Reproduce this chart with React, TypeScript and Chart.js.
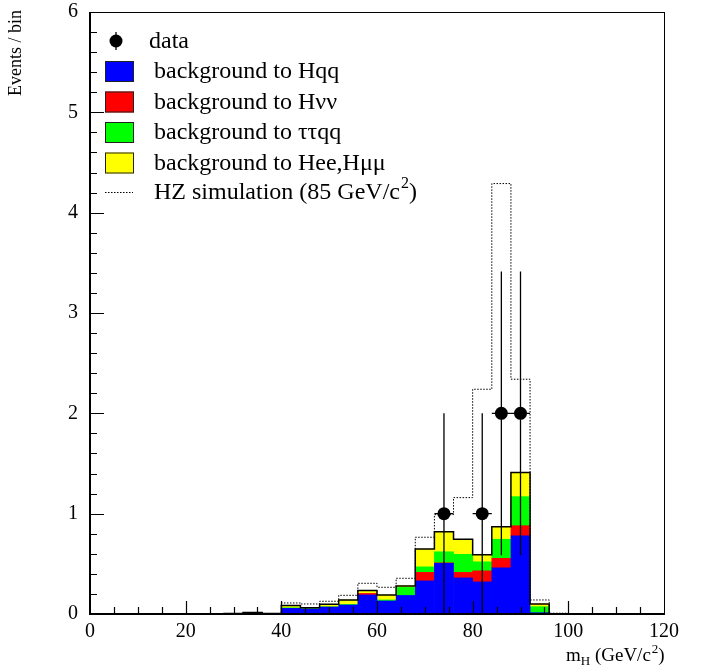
import { useEffect, useRef } from 'react';
import { Chart, registerables } from 'chart.js';

Chart.register(...registerables);

// Histogram binning: 30 bins of 4 GeV/c^2 from 0 to 120
const BIN_WIDTH = 4;
const binLowEdges = [
  0, 4, 8, 12, 16, 20, 24, 28, 32, 36, 40, 44, 48, 52, 56, 60, 64, 68, 72, 76, 80, 84, 88, 92, 96, 100, 104,
  108, 112, 116,
];

// Background contributions per bin (events / bin), stacked in this order
const bgHqq = [
  0, 0, 0, 0, 0, 0, 0, 0, 0, 0, 0.057, 0.05, 0.07, 0.09, 0.19, 0.13, 0.185, 0.33, 0.505, 0.36, 0.32, 0.46, 0.78,
  0.013, 0, 0, 0, 0, 0, 0,
];
const bgHnn = [
  0, 0, 0, 0, 0, 0, 0, 0, 0, 0, 0, 0, 0, 0, 0.015, 0, 0, 0.085, 0.005, 0.055, 0.11, 0.095, 0.1, 0, 0, 0, 0, 0, 0,
  0,
];
const bgTtqq = [
  0, 0, 0, 0, 0, 0, 0, 0, 0, 0, 0.005, 0.003, 0.002, 0.005, 0, 0.01, 0.08, 0.055, 0.11, 0.18, 0.09, 0.19, 0.29,
  0.06, 0, 0, 0, 0, 0, 0,
];
const bgHll = [
  0, 0, 0, 0, 0, 0, 0, 0.004, 0.015, 0.005, 0.023, 0.01, 0.025, 0.045, 0.03, 0.05, 0.015, 0.178, 0.2, 0.15, 0.07,
  0.125, 0.24, 0.027, 0, 0, 0, 0, 0, 0,
];

// Expected total with an 85 GeV/c^2 Higgs signal added
const hzSim = [
  0, 0, 0, 0, 0, 0, 0, 0.004, 0.015, 0.005, 0.11, 0.1, 0.127, 0.186, 0.306, 0.266, 0.356, 0.765, 0.99, 1.16, 2.24,
  4.29, 2.34, 0.14, 0.008, 0, 0, 0, 0, 0,
];

// Observed candidates
const dataMass = [74, 82, 86, 90];
const dataCounts = [1, 1, 2, 2];
const dataErrLow = [1, 1, 1.414, 1.414];
const dataErrHigh = [1, 1, 1.414, 1.414];
const dataMassErr = [2, 2, 2, 2];

// Axes
const xTickValues = [0, 20, 40, 60, 80, 100, 120];
const xTickLabels = ['0', '20', '40', '60', '80', '100', '120'];
const yTickValues = [0, 1, 2, 3, 4, 5, 6];
const yTickLabels = ['0', '1', '2', '3', '4', '5', '6'];
const X_MINOR_STEP = 5;
const Y_MINOR_STEP = 0.2;

const legendLabels = [
  'background to Hqq',
  'background to H\u03BD\u03BD',
  'background to \u03C4\u03C4qq',
  'background to Hee,H\u03BC\u03BC',
];
const stackColors = ['#0000ff', '#ff0000', '#00ff00', '#ffff00'];

const SERIF = '"Liberation Serif", "Times New Roman", serif';

function barPoints(values: number[]) {
  return values.map((v, i) => ({ x: binLowEdges[i] + BIN_WIDTH / 2, y: v > 0 ? v : null }));
}

// Step outline of a histogram: a horizontal segment across each bin
function stepPoints(values: number[]) {
  const pts: { x: number; y: number }[] = [];
  values.forEach((v, i) => {
    pts.push({ x: binLowEdges[i], y: v });
    pts.push({ x: binLowEdges[i] + BIN_WIDTH, y: v });
  });
  return pts;
}

const overlayPlugin = {
  id: 'hepOverlay',
  afterDatasetsDraw(chart: any) {
    const { ctx, chartArea: a, scales } = chart;
    const x = scales.x;
    const y = scales.y;
    ctx.save();

    // error bars on the observed points
    ctx.strokeStyle = '#000';
    ctx.lineWidth = 1.3;
    dataMass.forEach((m, i) => {
      const px = x.getPixelForValue(m);
      const py = y.getPixelForValue(dataCounts[i]);
      ctx.beginPath();
      ctx.moveTo(px, y.getPixelForValue(dataCounts[i] - dataErrLow[i]));
      ctx.lineTo(px, y.getPixelForValue(dataCounts[i] + dataErrHigh[i]));
      ctx.moveTo(x.getPixelForValue(m - dataMassErr[i]), py);
      ctx.lineTo(x.getPixelForValue(m + dataMassErr[i]), py);
      ctx.stroke();
    });

    // frame
    ctx.lineWidth = 1;
    ctx.strokeRect(Math.round(a.left) + 0.5, Math.round(a.top) + 0.5, a.right - a.left, a.bottom - a.top);
    ctx.lineWidth = 2;
    ctx.beginPath();
    ctx.moveTo(a.left, a.top);
    ctx.lineTo(a.left, a.bottom);
    ctx.lineTo(a.right, a.bottom);
    ctx.stroke();

    // inward tick marks
    ctx.lineWidth = 1.2;
    ctx.beginPath();
    const xMin = x.min;
    const xMax = x.max;
    for (let v = xMin + X_MINOR_STEP; v < xMax - 1e-6; v += X_MINOR_STEP) {
      const px = Math.round(x.getPixelForValue(v)) + 0.5;
      const len = xTickValues.includes(v) ? 13 : 7;
      ctx.moveTo(px, a.bottom);
      ctx.lineTo(px, a.bottom - len);
    }
    const steps = Math.round((y.max - y.min) / Y_MINOR_STEP);
    for (let k = 1; k < steps; k++) {
      const v = y.min + k * Y_MINOR_STEP;
      const py = Math.round(y.getPixelForValue(v)) + 0.5;
      const isMajor = Math.abs(v - Math.round(v)) < 1e-6;
      ctx.moveTo(a.left, py);
      ctx.lineTo(a.left + (isMajor ? 14 : 7), py);
    }
    ctx.stroke();
    ctx.restore();
  },
  afterDraw(chart: any) {
    const { ctx } = chart;
    ctx.save();
    ctx.fillStyle = '#000';
    ctx.strokeStyle = '#000';

    // legend
    ctx.font = `24px ${SERIF}`;
    ctx.textBaseline = 'middle';
    ctx.textAlign = 'left';
    ctx.lineWidth = 1.3;
    ctx.beginPath();
    ctx.moveTo(116, 32);
    ctx.lineTo(116, 50);
    ctx.stroke();
    ctx.beginPath();
    ctx.arc(116, 41, 6.5, 0, Math.PI * 2);
    ctx.fill();
    ctx.fillText('data', 149, 42);

    legendLabels.forEach((label, i) => {
      const top = 61 + i * 30.5;
      ctx.fillStyle = stackColors[i];
      ctx.fillRect(105, top, 29, 21);
      ctx.strokeStyle = '#222';
      ctx.lineWidth = 1;
      ctx.strokeRect(105.5, top + 0.5, 28, 20);
      ctx.fillStyle = '#000';
      ctx.fillText(label, 154, top + 11);
    });

    ctx.strokeStyle = '#000';
    ctx.lineWidth = 1;
    ctx.setLineDash([1.5, 1.5]);
    ctx.beginPath();
    ctx.moveTo(105, 192.5);
    ctx.lineTo(133, 192.5);
    ctx.stroke();
    ctx.setLineDash([]);
    const simText = 'HZ simulation (85 GeV/c';
    ctx.fillText(simText, 154, 193);
    let tx = 154 + ctx.measureText(simText).width;
    ctx.font = `16px ${SERIF}`;
    ctx.fillText('2', tx + 1, 184);
    tx += ctx.measureText('2').width + 1;
    ctx.font = `24px ${SERIF}`;
    ctx.fillText(')', tx, 193);

    // y-axis title
    ctx.save();
    ctx.font = `18px ${SERIF}`;
    ctx.translate(16, 10);
    ctx.rotate(-Math.PI / 2);
    ctx.textAlign = 'right';
    ctx.textBaseline = 'middle';
    ctx.fillText('Events / bin', 0, 0);
    ctx.restore();

    // x-axis title: m_H (GeV/c^2)
    ctx.textBaseline = 'alphabetic';
    ctx.textAlign = 'left';
    let xx = 566;
    const base = 661;
    ctx.font = `19px ${SERIF}`;
    ctx.fillText('m', xx, base);
    xx += ctx.measureText('m').width;
    ctx.font = `13px ${SERIF}`;
    ctx.fillText('H', xx, base + 4);
    xx += ctx.measureText('H').width;
    ctx.font = `19px ${SERIF}`;
    ctx.fillText(' (GeV/c', xx, base);
    xx += ctx.measureText(' (GeV/c').width;
    ctx.font = `13px ${SERIF}`;
    ctx.fillText('2', xx + 1, base - 8);
    xx += ctx.measureText('2').width + 1;
    ctx.font = `19px ${SERIF}`;
    ctx.fillText(')', xx, base);
    ctx.restore();
  },
};

export default function App() {
  const canvasRef = useRef<HTMLCanvasElement | null>(null);

  useEffect(() => {
    const canvas = canvasRef.current;
    if (!canvas) return;

    const bgTotal = bgHqq.map((v, i) => v + bgHnn[i] + bgTtqq[i] + bgHll[i]);
    const stacks = [bgHqq, bgHnn, bgTtqq, bgHll];

    const barSets = stacks.map((vals, i) => ({
      type: 'bar' as const,
      label: legendLabels[i],
      data: barPoints(vals),
      backgroundColor: stackColors[i],
      borderWidth: 0,
      barPercentage: 1,
      categoryPercentage: 1,
      stack: 'background',
      order: 3,
    }));

    const chart = new Chart(canvas, {
      type: 'bar',
      data: {
        datasets: [
          ...barSets,
          {
            type: 'line',
            label: 'background total',
            data: stepPoints(bgTotal),
            borderColor: '#000',
            borderWidth: 1.5,
            pointRadius: 0,
            tension: 0,
            fill: false,
            stack: 'outline',
            order: 2,
          },
          {
            type: 'line',
            label: 'HZ simulation (85 GeV/c2)',
            data: stepPoints(hzSim),
            borderColor: '#000',
            borderWidth: 1,
            borderDash: [1.5, 1.5],
            pointRadius: 0,
            tension: 0,
            fill: false,
            stack: 'simulation',
            order: 1,
          },
          {
            type: 'scatter',
            label: 'data',
            data: dataMass.map((m, i) => ({ x: m, y: dataCounts[i] })),
            backgroundColor: '#000',
            borderWidth: 0,
            pointRadius: 6.5,
            stack: 'data',
            order: 0,
          },
        ] as any,
      },
      options: {
        animation: false,
        responsive: false,
        devicePixelRatio: 1,
        layout: { padding: { left: 0, top: 12, right: 37, bottom: 0 } },
        plugins: { legend: { display: false }, tooltip: { enabled: false } },
        scales: {
          x: {
            type: 'linear',
            min: 0,
            max: 120,
            offset: false,
            stacked: true,
            grid: { display: false, drawTicks: false },
            border: { display: false },
            ticks: {
              color: '#000',
              font: { family: SERIF, size: 20 },
              padding: 6,
              maxRotation: 0,
              autoSkip: false,
              callback: (v: any) => xTickLabels[xTickValues.indexOf(Number(v))] ?? '',
            },
            afterBuildTicks: (s: any) => {
              s.ticks = xTickValues.map((v) => ({ value: v }));
            },
            afterFit: (s: any) => {
              s.height = 56;
              s.paddingLeft = 0;
              s.paddingRight = 0;
            },
          },
          y: {
            type: 'linear',
            min: 0,
            max: 6,
            stacked: true,
            grid: { display: false, drawTicks: false },
            border: { display: false },
            ticks: {
              color: '#000',
              font: { family: SERIF, size: 20 },
              padding: 12,
              callback: (v: any) => yTickLabels[yTickValues.indexOf(Number(v))] ?? '',
            },
            afterBuildTicks: (s: any) => {
              s.ticks = yTickValues.map((v) => ({ value: v }));
            },
            afterFit: (s: any) => {
              s.width = 90;
              s.paddingTop = 0;
              s.paddingBottom = 0;
            },
          },
        },
      } as any,
      plugins: [overlayPlugin],
    });

    return () => chart.destroy();
  }, []);

  return (
    <div style={{ position: 'absolute', left: 0, top: 0, width: 701, height: 670, background: '#fff' }}>
      <canvas ref={canvasRef} width={701} height={670} />
    </div>
  );
}
